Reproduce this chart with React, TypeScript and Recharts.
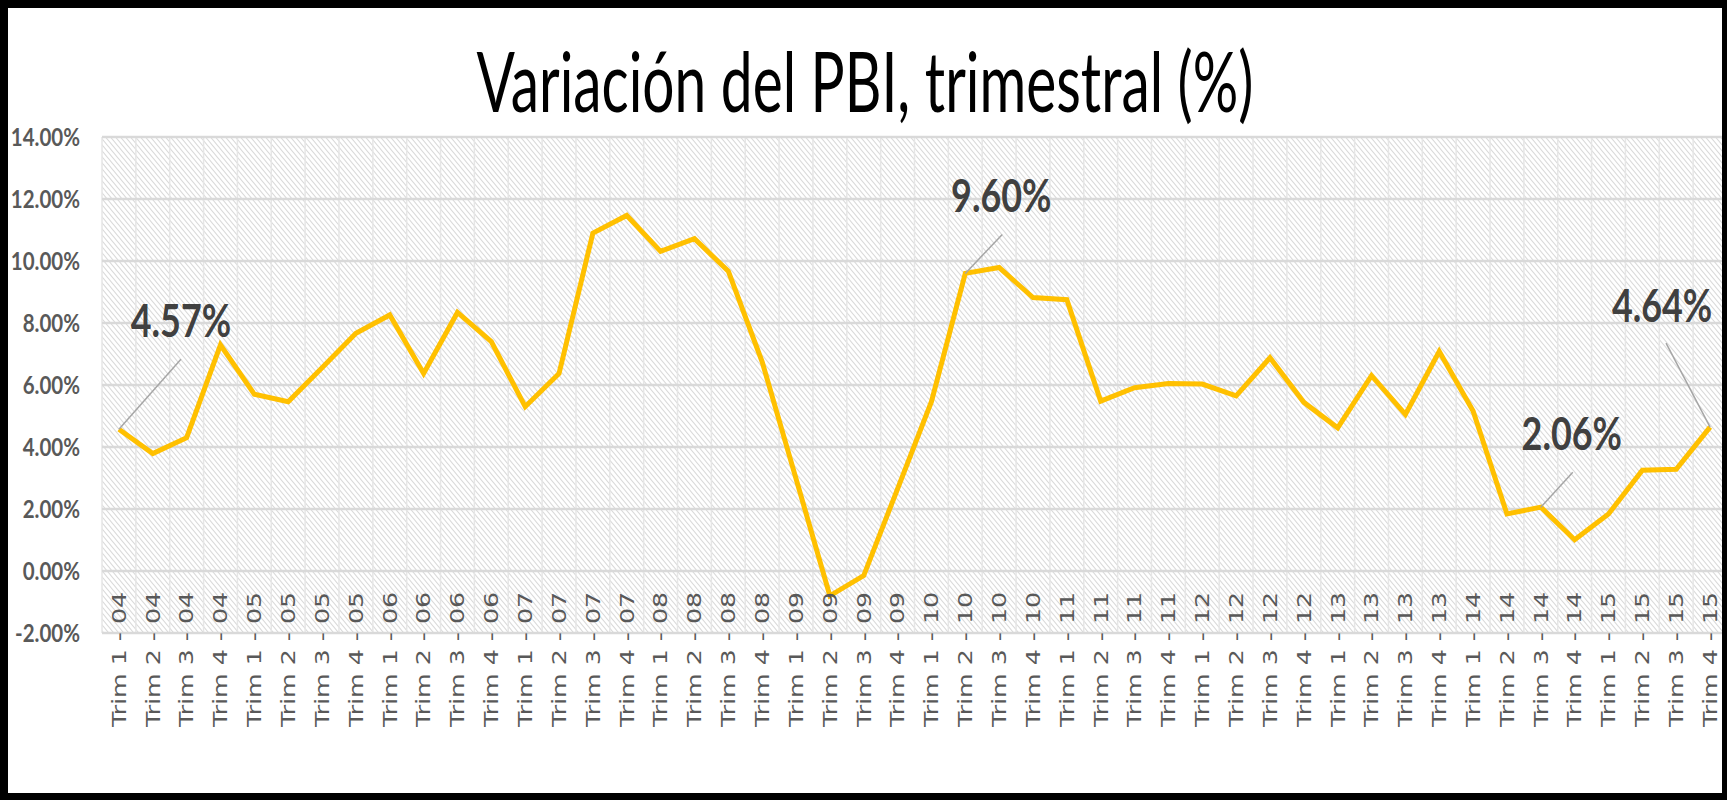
import React from 'react';
import { LineChart, Line, XAxis, YAxis, CartesianGrid } from 'recharts';

// años y trimestres del eje horizontal
const years = ['04', '05', '06', '07', '08', '09', '10', '11', '12', '13', '14', '15'];
const quarters = ['Trim 1', 'Trim 2', 'Trim 3', 'Trim 4'];

// variación del PBI (%) por trimestre, 2004 T1 a 2015 T4
const growth = [
  4.57, 3.79, 4.3, 7.29,
  5.7, 5.46, 6.56, 7.67,
  8.26, 6.37, 8.34, 7.4,
  5.3, 6.37, 10.9, 11.47,
  10.31, 10.72, 9.67, 6.75,
  2.98, -0.8, -0.15, 2.65,
  5.46, 9.6, 9.79, 8.82,
  8.75, 5.48, 5.91, 6.05,
  6.03, 5.65, 6.88, 5.44,
  4.62, 6.3, 5.05, 7.08,
  5.16, 1.84, 2.06, 1.01,
  1.84, 3.25, 3.28, 4.64,
];

const yTicks = [-2, 0, 2, 4, 6, 8, 10, 12, 14];

// puntos con etiqueta de datos (índice) y desplazamiento de la etiqueta / línea guía
const callouts = [
  { index: 0, tx: 62, ty: -92, lx: 62, ly: -70 },
  { index: 25, tx: 36, ty: -61, lx: 37, ly: -39 },
  { index: 42, tx: 31, ty: -57, lx: 32, ly: -35 },
  { index: 47, tx: -48, ty: -105, lx: -44, ly: -84 },
];

const data = years.flatMap((y, yi) =>
  quarters.map((q, qi) => ({ periodo: `${q} - ${y}`, pbi: growth[yi * 4 + qi] }))
);

const CHART_W = 1719;
const CHART_H = 785;

const XTick = (props: any) => {
  const { x, y, payload } = props;
  return (
    <text
      transform={`translate(${x},${y + 94}) rotate(-90)`}
      dy="0.36em"
      textAnchor="start"
      fontFamily="'DejaVu Sans', sans-serif"
      fontSize={19}
      fill="#595959"
      textLength={135}
      lengthAdjust="spacingAndGlyphs"
    >
      {payload.value}
    </text>
  );
};

const YTick = (props: any) => {
  const { x, y, payload } = props;
  return (
    <text
      transform={`translate(${x},${y}) scale(0.82,1)`}
      dy="0.36em"
      textAnchor="end"
      fontFamily="Lato, sans-serif"
      fontWeight={700}
      fontSize={25}
      fill="#595959"
    >
      {`${Number(payload.value).toFixed(2)}%`}
    </text>
  );
};

const renderCallout = (props: any) => {
  const { x, y, index, value } = props;
  const c = callouts.find((k) => k.index === index);
  if (!c || x == null || y == null) return <g key={`lbl-${index}`} />;
  return (
    <g key={`lbl-${index}`}>
      <line x1={x} y1={y} x2={x + c.lx} y2={y + c.ly} stroke="#a6a6a6" strokeWidth={1.5} />
      <text
        transform={`translate(${x + c.tx},${y + c.ty}) scale(0.78,1)`}
        textAnchor="middle"
        fontFamily="Lato, sans-serif"
        fontWeight={700}
        fontSize={46}
        fill="#404040"
      >
        {`${Number(value).toFixed(2)}%`}
      </text>
    </g>
  );
};

const App: React.FC = () => {
  const bandLines = ({ offset }: any) => {
    const step = offset.width / data.length;
    return data.map((_, i) => offset.left + i * step).concat(offset.left + offset.width);
  };

  return (
    <div style={{ position: 'absolute', left: 0, top: 0, width: 1727, height: 800, background: '#000' }}>
      {/* trama diagonal del área de trazado */}
      <svg width={0} height={0} style={{ position: 'absolute' }}>
        <defs>
          <pattern id="trama" patternUnits="userSpaceOnUse" width={5} height={6}>
            <rect width={5} height={6} fill="#ffffff" />
            <path d="M-1,-1.2 L6,7.2 M-6,-1.2 L1,7.2 M4,-1.2 L11,7.2" stroke="#d9d9d9" strokeWidth={1.1} />
          </pattern>
        </defs>
      </svg>
      <div
        style={{
          position: 'absolute',
          left: 8,
          top: 8,
          width: 1714,
          height: 785,
          background: '#fff',
          overflow: 'hidden',
        }}
      >
        <svg width={1714} height={130} style={{ position: 'absolute', left: 0, top: 0 }}>
          <text
            x={857}
            y={104}
            textAnchor="middle"
            fontFamily="Lato, sans-serif"
            fontSize={83}
            fill="#000"
            textLength={777}
            lengthAdjust="spacingAndGlyphs"
          >
            Variación del PBI, trimestral (%)
          </text>
        </svg>
        <div style={{ position: 'absolute', left: 0, top: 0 }}>
          <LineChart width={CHART_W} height={CHART_H} data={data} margin={{ top: 129, right: 0, bottom: 0, left: 0 }}>
            <CartesianGrid
              horizontal={false}
              vertical
              verticalCoordinatesGenerator={bandLines}
              stroke="#e6e6e6"
              strokeWidth={1.5}
              fill="url(#trama)"
            />
            <CartesianGrid horizontal vertical={false} stroke="#d9d9d9" strokeWidth={2.5} />
            <XAxis
              dataKey="periodo"
              interval={0}
              padding={{ left: 16.93, right: 16.93 }}
              height={160}
              axisLine={false}
              tickLine={false}
              tickSize={0}
              tickMargin={0}
              tick={<XTick />}
            />
            <YAxis
              domain={[-2, 14]}
              ticks={yTicks}
              width={94}
              axisLine={false}
              tickLine={false}
              tickSize={0}
              tickMargin={22}
              tick={<YTick />}
            />
            <Line
              type="linear"
              dataKey="pbi"
              stroke="#ffc000"
              strokeWidth={5}
              dot={false}
              isAnimationActive={false}
              label={renderCallout}
            />
          </LineChart>
        </div>
      </div>
    </div>
  );
};

export default App;
